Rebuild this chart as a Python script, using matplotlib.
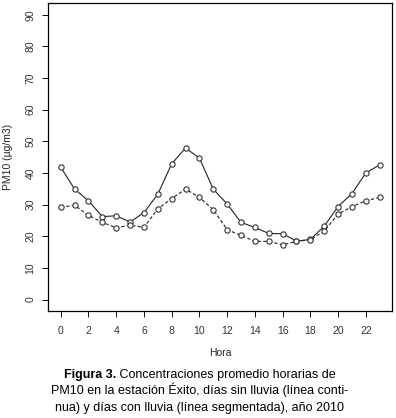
import matplotlib.pyplot as plt
import numpy as np

plt.rcParams['font.family'] = ['Liberation Sans', 'DejaVu Sans']

# Datos
hora = np.arange(24)
sin_lluvia = [41.8, 34.9, 31.2, 26.2, 26.5, 24.5, 27.5, 33.3, 42.9, 47.9, 44.7, 34.9,
              30.2, 24.4, 22.8, 20.9, 20.8, 18.5, 19.0, 23.2, 29.4, 33.5, 40.0, 42.6]
con_lluvia = [29.2, 29.8, 26.6, 24.4, 22.7, 23.5, 22.8, 28.7, 31.9, 34.9, 32.3, 28.4,
              22.1, 20.3, 18.4, 18.4, 17.3, 18.4, 18.9, 21.7, 27.0, 29.4, 31.2, 32.3]
xticks = np.arange(0, 23, 2)
yticks = np.arange(0, 91, 10)

fig = plt.figure(figsize=(3.96, 4.18), dpi=100)
ax = fig.add_axes([0.1212, 0.256, 0.8698, 0.736])

# lineas con circulos abiertos (estilo type="b" de R)
ax.plot(hora, sin_lluvia, '-', color='#222222', lw=0.8, marker='o', ms=3.8,
        mfc='white', mec='#333333', mew=0.8)
ax.plot(hora, con_lluvia, '--', color='#222222', lw=0.8, dashes=(3, 2), marker='o', ms=3.8,
        mfc='white', mec='#333333', mew=0.8)

ax.set_xlim(-0.92, 23.92)
ax.set_ylim(-3.6, 93.6)
ax.set_xticks(xticks)
ax.set_yticks(yticks)
ax.tick_params(direction='out', length=4.5, width=0.7, labelsize=7.5,
               colors='#111111', labelcolor='#333333')
ax.tick_params(axis='x', pad=6)
ax.tick_params(axis='y', pad=4.5)
for lab in ax.get_yticklabels():
    lab.set_rotation(90)
    lab.set_va('center')
for s in ax.spines.values():
    s.set_linewidth(0.9)

ax.set_xlabel('Hora', fontsize=7.5, labelpad=9, color='#222222')
ax.set_ylabel('PM10 (µg/m3)', fontsize=7.5, labelpad=9, color='#222222')

# pie de figura, con "Figura 3." en negrita
fig.canvas.draw()
r = fig.canvas.get_renderer()
t1 = fig.text(0, 0.0957, 'Figura 3.', fontsize=9, fontweight='bold', va='baseline')
t2 = fig.text(0, 0.0957, ' Concentraciones promedio horarias de', fontsize=9, va='baseline')
w1 = t1.get_window_extent(r).width / fig.bbox.width
w2 = t2.get_window_extent(r).width / fig.bbox.width
x0 = 0.505 - (w1 + w2) / 2
t1.set_x(x0)
t2.set_x(x0 + w1)
fig.text(0.505, 0.0574, 'PM10 en la estación Éxito, días sin lluvia (línea conti-',
         ha='center', va='baseline', fontsize=9)
fig.text(0.505, 0.0175, 'nua) y días con lluvia (línea segmentada), año 2010',
         ha='center', va='baseline', fontsize=9)

plt.savefig('out.png', dpi=100)
